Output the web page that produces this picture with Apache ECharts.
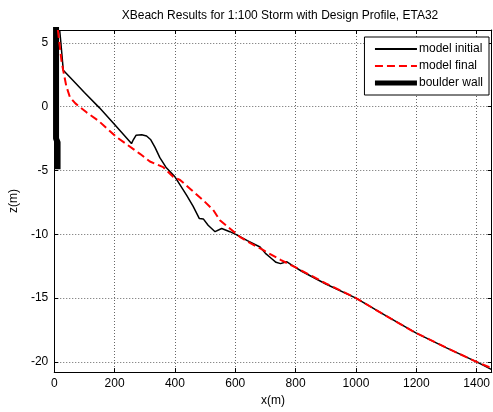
<!DOCTYPE html>
<html>
<head>
<meta charset="utf-8">
<script src="https://cdn.jsdelivr.net/npm/echarts@6/dist/echarts.min.js"></script>
<style>
  html, body { margin: 0; padding: 0; background: #fff; }
  #chart { width: 493px; height: 412px; }
</style>
</head>
<body>
<div id="chart"></div>
<script>
// profile data (x in m, z in m)
var initX = [18, 22, 30, 60, 100, 150, 200, 256, 262, 271, 290, 306, 320, 334, 350, 370, 400, 439, 460, 481, 494, 510, 533, 555, 582, 605, 640, 682, 700, 720, 735, 750, 770, 790, 820, 900, 1000, 1100, 1200, 1300, 1400, 1450];
var initZ = [6, 5, 2.85, 2.1, 1.1, -0.1, -1.4, -2.9, -2.6, -2.25, -2.2, -2.3, -2.6, -3.2, -4.0, -4.75, -5.5, -6.95, -7.8, -8.77, -8.8, -9.3, -9.8, -9.55, -9.8, -10.05, -10.5, -11.0, -11.5, -11.9, -12.2, -12.3, -12.15, -12.45, -12.9, -13.9, -15.0, -16.4, -17.75, -18.9, -20.0, -20.6];

var finalX = [12, 18, 24, 30, 40, 52, 70, 107, 146, 207, 284, 317, 361, 394, 417, 450, 494, 527, 549, 582, 615, 650, 693, 750, 800, 900, 1000, 1100, 1200, 1300, 1400, 1450];
var finalZ = [6, 4.8, 3.6, 2.8, 1.6, 0.73, 0.25, -0.45, -1.1, -2.4, -3.7, -4.3, -4.74, -5.5, -5.75, -6.43, -7.34, -8.1, -8.9, -9.55, -10.2, -10.7, -11.25, -12.0, -12.6, -13.85, -15.0, -16.4, -17.75, -18.9, -20.0, -20.5];

var wallX = [6, 6, 11, 11];
var wallZ = [6.5, -2.5, -2.8, -4.9];

var zTicks = [-20, -15, -10, -5, 0, 5];

function pairs(xs, zs) {
  return xs.map(function (x, i) { return [x, zs[i]]; });
}

var chart = echarts.init(document.getElementById('chart'));

var font = 'Arial, "Liberation Sans", sans-serif';
var gridLine = { show: true, lineStyle: { color: '#666', type: [1, 2], width: 1 } };

var option = {
  backgroundColor: '#fff',
  animation: false,
  title: {
    text: 'XBeach Results for 1:100 Storm with Design Profile, ETA32',
    left: 275,
    textAlign: 'center',
    top: 5,
    textStyle: { fontFamily: font, fontSize: 12, fontWeight: 'normal', color: '#000' }
  },
  legend: {
    orient: 'vertical',
    right: 4,
    top: 37,
    itemWidth: 42,
    itemHeight: 14,
    itemGap: 5,
    padding: [6, 6, 6, 8],
    backgroundColor: '#fff',
    borderColor: '#000',
    borderWidth: 1,
    borderRadius: 0,
    itemStyle: { color: 'transparent', borderWidth: 0 },
    textStyle: { fontFamily: font, fontSize: 12, color: '#000', padding: [0, 0, 0, -3] },
    data: [
      { name: 'model initial', lineStyle: { width: 2 } },
      { name: 'model final', lineStyle: { width: 2 } },
      { name: 'boulder wall', lineStyle: { width: 5 } }
    ]
  },
  grid: { left: 54, right: 1, top: 30, bottom: 39 },
  xAxis: [{
    type: 'value',
    min: 0,
    max: 1450,
    interval: 200,
    name: 'x(m)',
    nameLocation: 'middle',
    nameGap: 20,
    nameTextStyle: { fontFamily: font, fontSize: 12, color: '#000' },
    axisLine: { show: true, onZero: false, lineStyle: { color: '#000' } },
    axisTick: { show: true, inside: true, length: 4, lineStyle: { color: '#000' } },
    axisLabel: {
      showMaxLabel: false, fontFamily: font, fontSize: 12, color: '#000', margin: 6,
      formatter: function (v) { return String(v); }
    },
    splitLine: gridLine
  }, {
    type: 'value',
    position: 'top',
    min: 0,
    max: 1450,
    interval: 200,
    axisLine: { show: true, onZero: false, lineStyle: { color: '#000' } },
    axisTick: { show: true, inside: true, length: 4, lineStyle: { color: '#000' } },
    axisLabel: { show: false },
    splitLine: { show: false }
  }],
  yAxis: [{
    type: 'value',
    min: -20.8,
    max: 6,
    name: 'z(m)',
    nameLocation: 'middle',
    nameGap: 30,
    nameTextStyle: { fontFamily: font, fontSize: 12, color: '#000' },
    axisLine: { show: true, onZero: false, lineStyle: { color: '#000' } },
    axisTick: { show: true, inside: true, length: 4, customValues: zTicks, lineStyle: { color: '#000' } },
    axisLabel: { customValues: zTicks, fontFamily: font, fontSize: 12, color: '#000', margin: 6 },
    splitLine: gridLine
  }, {
    type: 'value',
    position: 'right',
    min: -20.8,
    max: 6,
    axisLine: { show: true, onZero: false, lineStyle: { color: '#000' } },
    axisTick: { show: true, inside: true, length: 4, customValues: zTicks, lineStyle: { color: '#000' } },
    axisLabel: { show: false },
    splitLine: { show: false }
  }],
  series: [{
    name: 'model initial',
    type: 'line',
    symbol: 'none',
    data: pairs(initX, initZ),
    lineStyle: { color: '#000', width: 1.5 },
    itemStyle: { color: '#000' },
    z: 3
  }, {
    name: 'model final',
    type: 'line',
    symbol: 'none',
    data: pairs(finalX, finalZ),
    lineStyle: { color: '#ff0000', width: 2, type: [8, 4] },
    itemStyle: { color: '#ff0000' },
    z: 4
  }, {
    name: 'boulder wall',
    type: 'line',
    symbol: 'none',
    data: pairs(wallX, wallZ),
    lineStyle: { color: '#000', width: 6 },
    itemStyle: { color: '#000' },
    z: 2
  }]
};

chart.setOption(option);
</script>
</body>
</html>
